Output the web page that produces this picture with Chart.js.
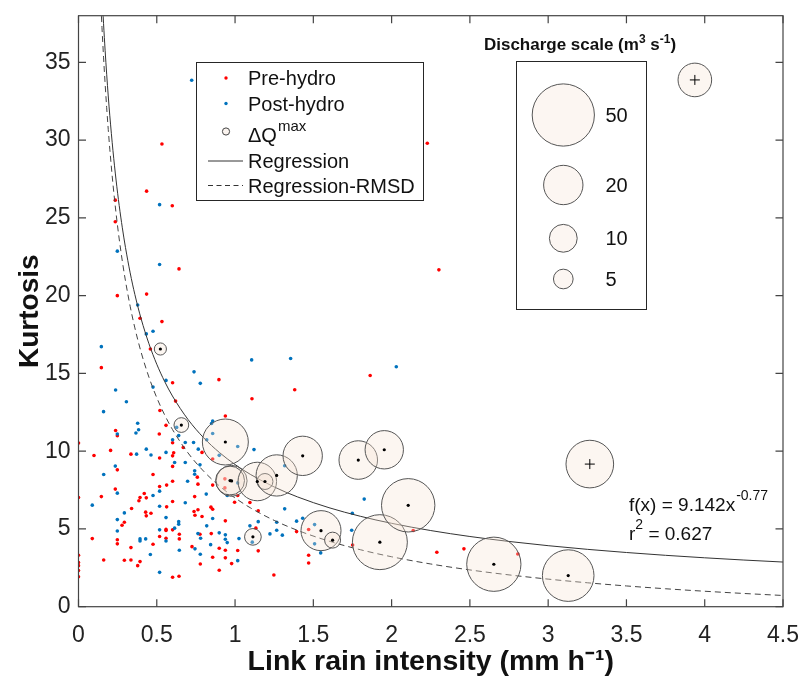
<!DOCTYPE html>
<html><head><meta charset="utf-8">
<script src="https://cdn.jsdelivr.net/npm/chart.js@4.4.1/dist/chart.umd.min.js"></script>
<style>html,body{margin:0;padding:0;background:#fff;}#wrap{width:801px;height:686px;}</style>
</head><body><div id="wrap"><canvas id="c" width="801" height="686"></canvas></div>
<script>
// ---------- data ----------
const xTicks = [0, 0.5, 1, 1.5, 2, 2.5, 3, 3.5, 4, 4.5];
const yTicks = [0, 5, 10, 15, 20, 25, 30, 35];
const xTitle = 'Link rain intensity (mm h\u207B\u00B9)';
const yTitle = 'Kurtosis';

const preHydro = [
 [0.533,29.75],[0.435,26.72],[0.599,25.78],[0.235,26.14],[0.235,24.75],[0.642,21.72],[0.248,20.0],[0.435,20.1],[2.228,29.8],[2.302,21.66],
 [0.393,18.55],[0.533,18.33],[0.459,16.57],[0.146,15.37],[0.601,14.4],[0.897,14.6],[1.381,13.95],[1.863,14.87],[1.108,13.37],[0.62,13.22],
 [0.52,12.62],[0.938,12.26],[0.559,11.66],[0.237,11.33],[0.248,10.99],[0.516,11.1],[0.601,10.54],[0,10.52],
 [0.099,9.72],[0.205,10.05],[0.335,9.81],[0.518,9.56],[0.601,9.7],[0.608,9.9],[0.669,10.24],[0.789,9.92],[0.857,9.5],
 [0.248,8.8],[0.476,8.5],[0.601,9.02],[0.759,8.33],[0.601,8.07],[0.763,7.88],[0.857,7.82],[0.935,8.22],[0.935,7.64],[0.518,7.73],[0.563,7.82],
 [0.235,7.56],[0.42,7.28],[0.393,7.02],[0.146,7.08],[0,7.02],[0.433,7.0],[0.386,6.81],[1.017,7.15],[0.742,7.08],[0.997,6.72],[1.095,6.7],
 [0.601,6.76],[0.563,6.42],[0.339,6.31],[0.846,6.4],[0.857,6.27],[1.148,6.17],[0.763,6.23],[0.738,6.12],[0.744,5.88],[0.789,5.8],[0.429,6.08],
 [0.463,6.01],[0.433,5.84],[0.938,5.52],[0.293,5.43],[0.278,5.24],[1.133,5.05],[0.559,4.97],[0.559,4.9],[0.601,4.94],[0.848,4.7],[0.776,4.66],
 [0.644,4.66],[0.644,4.36],[0.518,4.51],[0.559,4.4],[0.088,4.38],[0.248,4.3],[0.248,4.04],[0.476,4.02],[0.335,3.8],[0.725,3.86],[0.899,3.76],
 [0.938,3.63],[1.017,3.61],[1.148,3.59],[0.857,3.18],[0.938,3.14],[0.978,2.77],[0.778,2.75],[0.899,2.34],[0.601,1.89],[0.642,1.96],[0,3.31],
 [0.161,3.0],[0.293,2.99],[0.335,3.0],[0.393,2.9],[0.378,2.64],[0,2.84],[0,2.64],[0,2.32],[0,1.93],[1.248,2.04],
 [1.393,4.83],[1.47,4.96],[1.47,3.31],[1.47,2.81],[1.751,3.97],[2.138,4.9],[2.289,3.5],[2.462,3.72],[2.806,3.39]
];
const postHydro = [
 [0.723,33.85],[0.518,25.85],[0.248,22.86],[0.518,22.0],
 [0.378,19.4],[0.433,17.54],[0.476,17.71],[0.146,16.72],[1.106,15.87],[1.355,15.96],[2.03,15.43],[0.738,15.1],[0.559,14.55],[0.778,14.36],
 [0.476,14.12],[0.237,13.93],[0.306,13.18],[0.16,12.54],[0.857,11.94],[0.85,11.78],[0.378,11.8],[0.384,11.38],[0.367,11.17],[0.248,11.1],
 [0.627,11.53],[0.64,11.0],[0.601,10.73],[0.857,11.14],[0.682,10.56],[0.735,10.56],[0.819,10.73],[1.017,10.3],[1.121,10.1],
 [0.433,10.13],[0.463,9.75],[0.371,9.81],[0.559,9.92],[0.899,9.73],[0.765,10.13],[0.235,9.04],[0.161,8.5],[0.614,9.27],[0.682,9.27],
 [0.776,9.12],[0.742,8.74],[0.742,8.52],[0.697,8.07],[1.017,7.96],[0.518,7.43],[0.248,7.3],[0.476,7.15],[0.816,7.24],[0.95,7.15],
 [0.682,6.68],[0.088,6.53],[0.518,6.46],[0.293,6.03],[0.559,5.73],[0.248,5.6],[0.857,5.67],[1.148,5.47],[0.64,5.47],[0.64,5.3],
 [0.819,5.2],[1.095,5.2],[0.614,5.05],[0.248,4.87],[0.518,4.94],[0.899,4.75],[0.938,4.62],[0.763,4.7],[0.78,4.4],[0.559,4.22],
 [0.393,4.36],[0.393,4.23],[0.429,4.36],[0.938,4.34],[0.95,4.12],[1.025,4.38],[1.11,4.15],[0.644,3.63],[0.744,3.72],[0.844,3.99],
 [0.778,3.37],[0.459,3.36],[1.017,2.96],[0.518,2.21],
 [1.317,9.06],[1.317,6.29],[1.266,5.43],[1.393,5.5],[1.432,5.69],[1.508,5.28],[1.223,4.68],[1.266,4.92],[1.302,4.6],[1.508,4.04],
 [1.547,3.46],[1.749,6.01],[1.745,4.92],[1.825,6.92]
];
// Delta Q max events: [x, y, discharge m3/s]
const dQmax = [
 [0.523,16.57,1.9],[0.657,11.68,2.8],[0.938,10.59,27.3],[0.978,8.09,12.4],[0.968,8.11,10.8],[1.142,8.05,19.2],[1.191,8.05,3.3],
 [1.266,8.44,22],[1.432,9.70,20],[1.787,9.43,19.2],[1.953,10.09,19],[1.114,4.49,3.6],[1.549,4.89,20.7],[1.623,4.28,3.3],
 [1.925,4.15,39],[2.106,6.52,36.8],[2.653,2.73,38],[3.128,2.0,34.4]
];
const dQmaxCross = [[3.266,9.17,29.3],[3.937,33.87,14.6]];
const scaleQ = [50, 20, 10, 5];
const fitA = 9.142, fitB = -0.77, rmsd = 2.15, r2 = 0.627;
const fitX = [0.13,0.14,0.15,0.16,0.17,0.18,0.19,0.2,0.22,0.24,0.26,0.28,0.3,0.33,0.36,0.4,0.45,0.5,0.55,0.6,0.7,0.8,0.9,1,1.1,1.25,1.4,1.6,1.8,2,2.25,2.5,2.75,3,3.25,3.5,3.75,4,4.25,4.5];

// ---------- helpers ----------
const FONT = '"Liberation Sans", Arial, Helvetica, sans-serif';
const RSCALE = 4.4; // px per sqrt(m3/s)
const rad = q => RSCALE * Math.sqrt(q);
const BUB_FILL = 'rgba(246,226,212,0.32)';
const BUB_EDGE = '#555555';
const toPts = arr => arr.map(p => ({x: p[0], y: p[1]}));

const fitLine = fitX.map(x => ({x, y: fitA * Math.pow(x, fitB)}));
const fitLow = fitX.map(x => ({x, y: fitA * Math.pow(x, fitB) - rmsd}));

const framePlugin = {
  id: 'frame',
  afterDraw(chart) {
    const {ctx, chartArea: a, scales} = chart;
    ctx.save();
    // axes box with inward ticks
    ctx.strokeStyle = '#444';
    ctx.lineWidth = 1.2;
    ctx.strokeRect(a.left, a.top, a.right - a.left, a.bottom - a.top);
    const tl = 7.5;
    ctx.beginPath();
    xTicks.forEach(v => {
      const px = scales.x.getPixelForValue(v);
      ctx.moveTo(px, a.bottom); ctx.lineTo(px, a.bottom - tl);
      ctx.moveTo(px, a.top); ctx.lineTo(px, a.top + tl);
    });
    yTicks.forEach(v => {
      const py = scales.y.getPixelForValue(v);
      ctx.moveTo(a.left, py); ctx.lineTo(a.left + tl, py);
      ctx.moveTo(a.right, py); ctx.lineTo(a.right - tl, py);
    });
    ctx.stroke();

    // ---- main legend ----
    ctx.lineWidth = 1;
    ctx.strokeStyle = '#262626';
    ctx.fillStyle = '#fff';
    ctx.fillRect(196.5, 62.5, 227, 138);
    ctx.strokeRect(196.5, 62.5, 227, 138);
    ctx.fillStyle = '#ff0000';
    ctx.beginPath(); ctx.arc(226, 78, 1.7, 0, Math.PI * 2); ctx.fill();
    ctx.fillStyle = '#0072BD';
    ctx.beginPath(); ctx.arc(226, 103.5, 1.7, 0, Math.PI * 2); ctx.fill();
    ctx.fillStyle = '#fbf4ef'; ctx.strokeStyle = '#444';
    ctx.beginPath(); ctx.arc(226, 131.5, 3.6, 0, Math.PI * 2); ctx.fill(); ctx.stroke();
    ctx.strokeStyle = '#333';
    ctx.beginPath(); ctx.moveTo(208, 161); ctx.lineTo(243, 161); ctx.stroke();
    ctx.setLineDash([5, 3.5]);
    ctx.beginPath(); ctx.moveTo(208, 185.5); ctx.lineTo(243, 185.5); ctx.stroke();
    ctx.setLineDash([]);
    ctx.fillStyle = '#111';
    ctx.font = '20px ' + FONT;
    ctx.textBaseline = 'alphabetic';
    ctx.textAlign = 'left';
    ctx.fillText('Pre-hydro', 248, 85);
    ctx.fillText('Post-hydro', 248, 110.5);
    ctx.fillText('\u0394Q', 248, 141.5);
    const wdq = ctx.measureText('\u0394Q').width;
    ctx.font = '15px ' + FONT;
    ctx.fillText('max', 248 + wdq + 1, 130.5);
    ctx.font = '20px ' + FONT;
    ctx.fillText('Regression', 248, 168);
    ctx.fillText('Regression-RMSD', 248, 192.5);

    // ---- discharge scale legend ----
    ctx.strokeStyle = '#262626';
    ctx.strokeRect(516.5, 61.5, 130, 248);
    const tParts = [['Discharge scale (m', 17, 0], ['3', 12, -7], [' s', 17, 0], ['-1', 12, -7], [')', 17, 0]];
    let tw = 0;
    tParts.forEach(p => { ctx.font = 'bold ' + p[1] + 'px ' + FONT; tw += ctx.measureText(p[0]).width; });
    let tx = 580 - tw / 2;
    ctx.fillStyle = '#111';
    tParts.forEach(p => { ctx.font = 'bold ' + p[1] + 'px ' + FONT; ctx.fillText(p[0], tx, 50 + p[2]); tx += ctx.measureText(p[0]).width; });
    const cy = [115, 185, 238.3, 279];
    scaleQ.forEach((q, i) => {
      ctx.fillStyle = '#fcf6f2'; ctx.strokeStyle = BUB_EDGE;
      ctx.beginPath(); ctx.arc(563.3, cy[i], rad(q), 0, Math.PI * 2); ctx.fill(); ctx.stroke();
      ctx.fillStyle = '#111';
      ctx.font = '20px ' + FONT;
      ctx.textBaseline = 'middle';
      ctx.fillText(String(q), 605.5, cy[i] + 1);
    });
    ctx.textBaseline = 'alphabetic';

    // ---- fit annotation ----
    ctx.font = '19px ' + FONT;
    const s1 = 'f(x) = ' + fitA.toFixed(3) + 'x';
    ctx.fillText(s1, 629, 510.5);
    let w1 = ctx.measureText(s1).width;
    ctx.font = '14px ' + FONT;
    ctx.fillText(String(fitB), 629 + w1 + 1, 500);
    ctx.font = '19px ' + FONT;
    ctx.fillText('r', 629, 540);
    let w2 = ctx.measureText('r').width;
    ctx.font = '14px ' + FONT;
    ctx.fillText('2', 629 + w2, 529);
    let w3 = ctx.measureText('2').width;
    ctx.font = '19px ' + FONT;
    ctx.fillText(' = ' + r2.toFixed(3), 629 + w2 + w3, 540);
    ctx.restore();
  }
};

new Chart(document.getElementById('c'), {
  type: 'scatter',
  data: {
    datasets: [
      {label: 'centres', type: 'scatter', order: 0, data: toPts(dQmax), pointRadius: 1.6, pointBackgroundColor: '#000', pointBorderWidth: 0},
      {label: 'crosses', type: 'scatter', order: 0, data: toPts(dQmaxCross), pointStyle: 'cross', pointRadius: 5, pointBorderColor: '#000', pointBorderWidth: 1},
      {label: '\u0394Q max', type: 'bubble', order: 1,
       data: dQmax.concat(dQmaxCross).map(p => ({x: p[0], y: p[1], r: rad(p[2])})),
       backgroundColor: BUB_FILL, borderColor: BUB_EDGE, borderWidth: 1},
      {label: 'Regression', type: 'line', order: 2, data: fitLine, borderColor: '#333', borderWidth: 1, pointRadius: 0, cubicInterpolationMode: 'monotone', fill: false},
      {label: 'Regression-RMSD', type: 'line', order: 2, data: fitLow, borderColor: '#444', borderWidth: 1, borderDash: [6, 4], pointRadius: 0, cubicInterpolationMode: 'monotone', fill: false},
      {label: 'Post-hydro', order: 3, data: toPts(postHydro), pointRadius: 1.8, pointBackgroundColor: '#0072BD', pointBorderWidth: 0},
      {label: 'Pre-hydro', order: 4, data: toPts(preHydro), pointRadius: 1.8, pointBackgroundColor: '#ff0000', pointBorderWidth: 0}
    ]
  },
  options: {
    responsive: false, animation: false, devicePixelRatio: 1,
    layout: {autoPadding: false, padding: {top: 15.7, right: 18, left: 0, bottom: 0}},
    plugins: {legend: {display: false}, tooltip: {enabled: false}},
    events: [],
    scales: {
      x: {
        type: 'linear', min: 0, max: 4.5,
        afterBuildTicks: s => { s.ticks = xTicks.map(v => ({value: v})); },
        afterFit: s => { s.height = 79.3; s.paddingLeft = 0; s.paddingRight = 0; },
        grid: {display: false}, border: {display: false},
        ticks: {color: '#222', font: {family: FONT, size: 23}, padding: 7, maxRotation: 0, autoSkip: false, callback: v => String(v)},
        title: {display: true, text: xTitle, color: '#111', font: {family: FONT, size: 28.5, weight: 'bold'}, padding: {top: 0, bottom: 7}}
      },
      y: {
        type: 'linear', min: 0, max: 38,
        afterBuildTicks: s => { s.ticks = yTicks.map(v => ({value: v})); },
        afterFit: s => { s.width = 78.5; s.paddingTop = 0; s.paddingBottom = 0; },
        grid: {display: false}, border: {display: false},
        ticks: {color: '#222', font: {family: FONT, size: 23}, padding: 0, autoSkip: false, callback: v => String(v)},
        title: {display: true, text: yTitle, color: '#111', font: {family: FONT, size: 28, weight: 'bold'}, padding: {top: 13, bottom: 0}}
      }
    }
  },
  plugins: [framePlugin]
});
</script></body></html>
